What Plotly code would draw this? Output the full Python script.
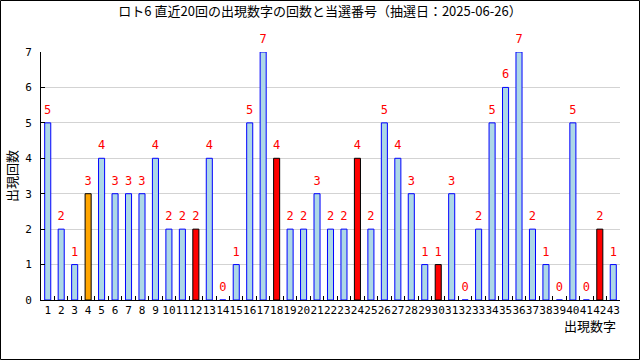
import plotly.graph_objects as go

numbers = [str(i) for i in range(1, 44)]
counts = [5, 2, 1, 3, 4, 3, 3, 3, 4, 2, 2, 2, 4, 0, 1, 5, 7, 4, 2, 2, 3, 2, 2, 4, 2,
          5, 4, 3, 1, 1, 3, 0, 2, 5, 6, 7, 2, 1, 0, 5, 0, 2, 1]
winning = [12, 18, 24, 30, 42]
bonus = [4]

title_text = "ロト6 直近20回の出現数字の回数と当選番号（抽選日：2025-06-26）"
ytitle = "出現回数"
xtitle = "出現数字"

W, H = 640, 360
L, R, T, B = 41, 20, 52, 60
pw, ph = W - L - R, H - T - B

fill, line = [], []
for n in range(1, 44):
    if n in winning:
        fill.append("#ff0000"); line.append("#000000")
    elif n in bonus:
        fill.append("#ffa500"); line.append("#000000")
    else:
        fill.append("#add8e6"); line.append("#0000ff")

jp = "Noto Sans CJK JP"
mono = "DejaVu Sans Mono"

fig = go.Figure()
fig.add_trace(go.Bar(x=numbers, y=counts, marker=dict(color=fill, line=dict(color=line, width=1)),
                     hoverinfo="x+y"))
fig.add_trace(go.Scatter(x=numbers, y=counts, mode="markers+text", text=[str(c) for c in counts],
                         textposition="top center", cliponaxis=False,
                         marker=dict(size=8, color="rgba(0,0,0,0)"),
                         textfont=dict(family=mono, size=12, color="#ff0000"), hoverinfo="skip"))

def px_x(p):
    return (p - L) / pw

def px_y(p):
    return (H - B - p) / ph

fig.update_layout(
    width=W, height=H, margin=dict(l=L, r=R, t=T, b=B),
    paper_bgcolor="white", plot_bgcolor="white", showlegend=False,
    bargap=0.55,
    title=dict(text=title_text, x=0.5, xref="container", xanchor="center",
               y=1 - 11 / H, yref="container", yanchor="middle",
               font=dict(family=jp, size=13, color="black")),
    xaxis=dict(type="category", range=[-0.5, 42.5], showline=True, linecolor="black", linewidth=1,
               ticks="inside", ticklen=4, tickcolor="black", tickson="boundaries",
               tickangle=0, dtick=1, automargin=False,
               tickfont=dict(family=mono, size=11, color="black"), showgrid=False,
               fixedrange=True),
    yaxis=dict(range=[0, 7], dtick=1, showline=True, linecolor="black", linewidth=1,
               ticks="inside", ticklen=4, tickcolor="black", automargin=False,
               tickfont=dict(family=mono, size=11, color="black"),
               showgrid=True, gridcolor="#d3d3d3", gridwidth=1, zeroline=False,
               ticklabelstandoff=6, fixedrange=True),
    annotations=[
        dict(text=ytitle, x=px_x(11), y=0.5, xref="paper", yref="paper", showarrow=False,
             textangle=-90, xanchor="center", yanchor="middle",
             font=dict(family=jp, size=13, color="black")),
        dict(text=xtitle, x=px_x(618), y=px_y(325), xref="paper", yref="paper", showarrow=False,
             xanchor="right", yanchor="middle",
             font=dict(family=jp, size=13, color="black")),
    ],
    shapes=[dict(type="rect", xref="paper", yref="paper",
                 x0=px_x(0.5), x1=px_x(639.5), y0=px_y(359.5), y1=px_y(0.5),
                 line=dict(color="black", width=1), fillcolor="rgba(0,0,0,0)", layer="above")],
)

fig.write_html("out.html", config={"displayModeBar": False},
               post_script="document.body.style.margin='0';document.body.style.overflow='hidden';")
